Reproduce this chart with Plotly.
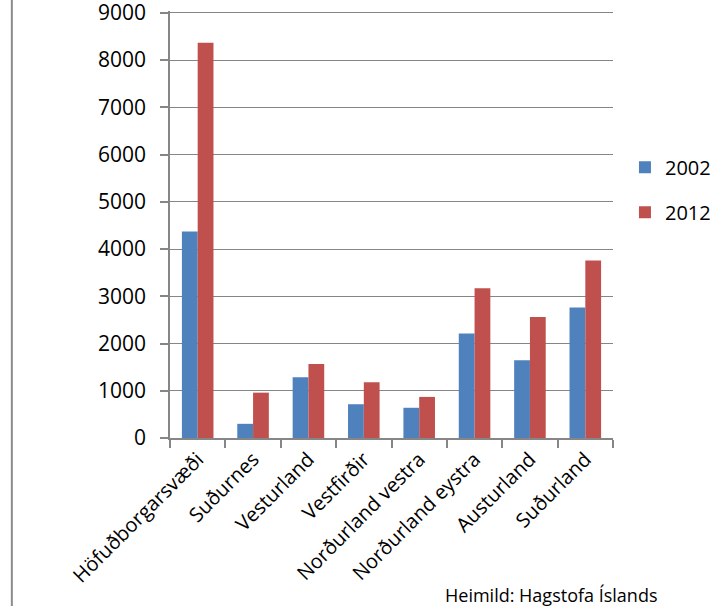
import plotly.graph_objects as go

_BLUE = "#4F81BD"
_RED = "#C0504D"
_GRID = "#868686"
_TEXT = "#000000"
_FONT = "Open Sans"

regions = [
    "Höfuðborgarsvæði",
    "Suðurnes",
    "Vesturland",
    "Vestfirðir",
    "Norðurland vestra",
    "Norðurland eystra",
    "Austurland",
    "Suðurland",
]
values_2002 = [4370, 300, 1285, 715, 640, 2215, 1645, 2765]
values_2012 = [8370, 960, 1565, 1180, 870, 3170, 2560, 3760]
y_ticks = [0, 1000, 2000, 3000, 4000, 5000, 6000, 7000, 8000, 9000]

fig = go.Figure()
fig.add_trace(go.Bar(
    name="2002", x=regions, y=values_2002,
    marker=dict(color=_BLUE, line=dict(width=0)),
    legendgroup="a",
))
fig.add_trace(go.Bar(
    name="2012", x=regions, y=values_2012,
    marker=dict(color=_RED, line=dict(width=0)),
    legendgroup="b",
))

# chart border on the left edge
fig.add_shape(type="line", xref="paper", yref="paper",
              x0=-0.357, x1=-0.357, y0=-0.45, y1=1.1,
              line=dict(color="#8c8c8c", width=2))

fig.add_annotation(
    text="Heimild: Hagstofa Íslands", xref="paper", yref="paper",
    x=0.616, y=-0.367, xanchor="left", yanchor="middle", showarrow=False,
    font=dict(family=_FONT, size=18, color=_TEXT),
)

fig.update_layout(
    width=724, height=606,
    paper_bgcolor="white", plot_bgcolor="white",
    margin=dict(l=170, r=111, t=11, b=168, autoexpand=False),
    font=dict(family=_FONT, size=20, color=_TEXT),
    barmode="group", bargap=0.43, bargroupgap=0,
    showlegend=True,
    legend=dict(x=1.027, y=0.68, xanchor="left", yanchor="top",
                tracegroupgap=16, font=dict(size=20),
                bgcolor="rgba(0,0,0,0)"),
    xaxis=dict(
        showline=True, linecolor=_GRID, linewidth=1.5,
        ticks="outside", ticklen=8, tickcolor=_GRID, tickwidth=1.5,
        tickson="boundaries", tickangle=-45, showgrid=False,
        tickfont=dict(size=20), automargin=False,
    ),
    yaxis=dict(
        range=[0, 9040], tickvals=y_ticks,
        showline=True, linecolor=_GRID, linewidth=1.5,
        ticks="outside", ticklen=8, tickcolor=_GRID, tickwidth=1.5,
        showgrid=True, gridcolor=_GRID, gridwidth=1.3,
        zeroline=False, tickfont=dict(size=21), automargin=False,
        ticklabelstandoff=10, ticklabeloverflow="allow",
    ),
)

# drop the browser's default body margin so the figure sits at (0, 0)
fig.write_html("out.html", config={"displayModeBar": False},
               post_script="document.body.style.margin='0';")
